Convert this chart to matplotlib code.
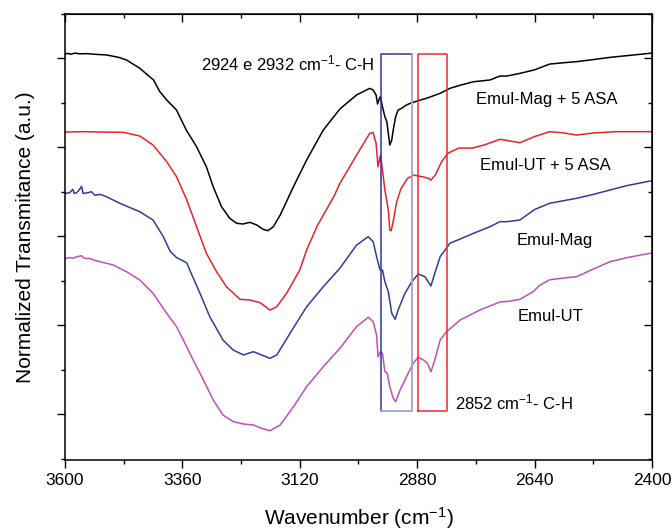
import matplotlib.pyplot as plt
from matplotlib.ticker import MultipleLocator

plt.rcParams['font.family'] = ['Liberation Sans', 'DejaVu Sans']
plt.rcParams['mathtext.default'] = 'regular'

# Emul-Mag + 5 ASA (black)
wn_mag_asa = [3600, 3594, 3588, 3580, 3570, 3555, 3540, 3515, 3490, 3474, 3447, 3419, 3406, 3392,
              3372, 3352, 3331, 3311, 3297, 3280, 3263, 3249, 3236, 3222, 3208, 3195, 3185, 3174,
              3160, 3133, 3106, 3072, 3038, 3004, 2977, 2970, 2964, 2961, 2957, 2955, 2951, 2946,
              2942, 2939, 2936, 2932, 2929, 2924, 2919, 2912, 2902, 2891, 2878, 2861, 2833, 2813,
              2790, 2765, 2731, 2711, 2697, 2670, 2640, 2609, 2580, 2554, 2520, 2486, 2450, 2404, 2400]
t_mag_asa = [5.048, 5.055, 5.045, 5.058, 5.050, 5.052, 5.045, 5.037, 5.010, 4.980, 4.887, 4.756, 4.624, 4.531,
             4.418, 4.193, 4.006, 3.781, 3.556, 3.331, 3.200, 3.145, 3.137, 3.156, 3.126, 3.077, 3.062, 3.107,
             3.238, 3.556, 3.856, 4.193, 4.430, 4.587, 4.662, 4.643, 4.587, 4.486, 4.550, 4.568, 4.455, 4.343,
             4.287, 4.156, 4.025, 4.081, 4.193, 4.343, 4.418, 4.437, 4.475, 4.500, 4.523, 4.550, 4.606, 4.662,
             4.700, 4.736, 4.756, 4.800, 4.800, 4.830, 4.870, 4.935, 4.950, 4.962, 4.985, 5.010, 5.030, 5.056, 5.058]

# Emul-UT + 5 ASA (red)
wn_ut_asa = [3600, 3560, 3520, 3481, 3447, 3420, 3392, 3372, 3351, 3331, 3311, 3290, 3270, 3242,
             3222, 3201, 3181, 3167, 3147, 3120, 3106, 3084, 3049, 3038, 3004, 2977, 2970, 2964,
             2960, 2955, 2951, 2946, 2939, 2936, 2933, 2928, 2922, 2913, 2900, 2887, 2869, 2856,
             2852, 2843, 2830, 2817, 2795, 2768, 2742, 2711, 2690, 2670, 2640, 2609, 2580, 2554,
             2520, 2472, 2404, 2400]
t_ut_asa = [4.171, 4.175, 4.170, 4.168, 4.126, 4.025, 3.837, 3.669, 3.407, 3.107, 2.808, 2.600, 2.432, 2.290,
            2.283, 2.253, 2.170, 2.207, 2.358, 2.620, 2.845, 3.119, 3.460, 3.594, 3.910, 4.156, 4.163, 4.044,
            3.781, 3.913, 3.744, 3.519, 3.294, 3.070, 3.062, 3.195, 3.384, 3.535, 3.649, 3.687, 3.668, 3.649,
            3.630, 3.687, 3.838, 3.933, 3.990, 3.990, 4.027, 4.089, 4.070, 4.051, 4.120, 4.175, 4.160, 4.137,
            4.160, 4.175, 4.175, 4.175]

# Emul-Mag (blue)
wn_mag = [3600, 3590, 3584, 3581, 3576, 3571, 3566, 3563, 3552, 3546, 3539, 3528, 3515, 3488,
          3447, 3420, 3399, 3385, 3372, 3351, 3345, 3324, 3304, 3277, 3256, 3235, 3215, 3198,
          3181, 3167, 3140, 3106, 3072, 3038, 3004, 2980, 2970, 2963, 2956, 2951, 2946, 2939,
          2932, 2925, 2919, 2905, 2891, 2878, 2864, 2852, 2844, 2833, 2813, 2765, 2731, 2711,
          2697, 2670, 2640, 2609, 2580, 2554, 2520, 2486, 2450, 2404, 2400]
t_mag = [3.480, 3.490, 3.527, 3.480, 3.490, 3.520, 3.560, 3.480, 3.490, 3.500, 3.460, 3.470, 3.444, 3.370,
         3.275, 3.182, 2.995, 2.830, 2.760, 2.700, 2.620, 2.358, 2.095, 1.833, 1.720, 1.665, 1.702, 1.665,
         1.627, 1.665, 1.908, 2.207, 2.432, 2.640, 2.900, 2.995, 2.938, 2.770, 2.620, 2.620, 2.488, 2.376,
         2.133, 2.066, 2.170, 2.358, 2.488, 2.575, 2.545, 2.440, 2.583, 2.770, 2.920, 3.032, 3.107, 3.163,
         3.163, 3.182, 3.300, 3.370, 3.400, 3.426, 3.470, 3.519, 3.570, 3.620, 3.620]

# Emul-UT (magenta)
wn_ut = [3600, 3590, 3584, 3576, 3566, 3560, 3550, 3540, 3528, 3501, 3474, 3447, 3420, 3392,
         3372, 3358, 3338, 3317, 3297, 3277, 3256, 3235, 3215, 3198, 3181, 3160, 3133, 3106,
         3072, 3038, 3004, 2980, 2970, 2963, 2960, 2955, 2951, 2946, 2941, 2936, 2929, 2924,
         2915, 2902, 2888, 2878, 2867, 2859, 2852, 2846, 2833, 2820, 2792, 2752, 2711, 2690,
         2670, 2643, 2629, 2609, 2580, 2554, 2520, 2486, 2450, 2404, 2400]
t_ut = [2.750, 2.760, 2.750, 2.770, 2.780, 2.750, 2.750, 2.730, 2.713, 2.676, 2.600, 2.508, 2.358, 2.133,
        1.983, 1.833, 1.608, 1.384, 1.159, 0.990, 0.915, 0.889, 0.878, 0.840, 0.814, 0.878, 1.083, 1.308,
        1.533, 1.740, 1.983, 2.088, 2.039, 1.889, 1.645, 1.702, 1.683, 1.477, 1.459, 1.308, 1.178, 1.140,
        1.271, 1.420, 1.571, 1.639, 1.608, 1.571, 1.477, 1.571, 1.833, 1.926, 2.058, 2.170, 2.260, 2.270,
        2.290, 2.376, 2.450, 2.510, 2.530, 2.545, 2.630, 2.713, 2.760, 2.808, 2.810]

# highlighted bands (wavenumber limits)
band_ch2_asym = (2953, 2891)
band_ch2_sym = (2878, 2820)
band_bottom, band_top = 1.038, 5.045

fig = plt.figure(figsize=(6.72, 5.30), dpi=100)
ax = fig.add_axes([0.0967, 0.132, 0.8735, 0.8425])

ax.plot(wn_mag_asa, t_mag_asa, color='black', lw=1.1)
ax.plot(wn_ut_asa, t_ut_asa, color='#e5242a', lw=1.1)
ax.plot(wn_mag, t_mag, color='#2f3c9c', lw=1.1)
ax.plot(wn_ut, t_ut, color='#bf4fb8', lw=1.1)

# boxes
x0, x1 = band_ch2_asym
ax.plot([x0, x0, x1], [band_bottom, band_top, band_top], color='#2e34a8', lw=1.1)
ax.plot([x1, x1, x0], [band_top, band_bottom, band_bottom], color='#a0a2d8', lw=1.3)
x0, x1 = band_ch2_sym
ax.plot([x0, x0, x1, x1, x0], [band_bottom, band_top, band_top, band_bottom, band_bottom],
        color='#ee2a2a', lw=1.1)

ax.text(3322, 4.94, '2924 e 2932 cm$^{-1}$- C-H', fontsize=12, va='center', ha='left')
ax.text(2760, 4.54, 'Emul-Mag + 5 ASA', fontsize=12, va='center', ha='left')
ax.text(2752, 3.80, 'Emul-UT + 5 ASA', fontsize=12, va='center', ha='left')
ax.text(2677, 2.95, 'Emul-Mag', fontsize=12, va='center', ha='left')
ax.text(2675, 2.095, 'Emul-UT', fontsize=12, va='center', ha='left')
ax.text(2803, 1.13, '2852 cm$^{-1}$- C-H', fontsize=12, va='center', ha='left')

ax.set_xlim(3600, 2400)
ax.set_ylim(0.484, 5.503)
ax.xaxis.set_major_locator(MultipleLocator(240))
ax.xaxis.set_minor_locator(MultipleLocator(120))
ax.yaxis.set_major_locator(MultipleLocator(1))
ax.yaxis.set_minor_locator(MultipleLocator(0.5))
ax.set_yticklabels([])
ax.tick_params(which='major', direction='out', length=6, width=1, labelsize=12.5)
ax.tick_params(which='minor', direction='out', length=3, width=1)

# mirrored ticks on top and right, pointing inward
top = ax.secondary_xaxis('top')
top.xaxis.set_major_locator(MultipleLocator(240))
top.xaxis.set_minor_locator(MultipleLocator(120))
top.tick_params(which='major', direction='in', length=6, width=1, labeltop=False)
top.tick_params(which='minor', direction='in', length=3, width=1)
right = ax.secondary_yaxis('right')
right.yaxis.set_major_locator(MultipleLocator(1))
right.yaxis.set_minor_locator(MultipleLocator(0.5))
right.tick_params(which='major', direction='in', length=6, width=1, labelright=False)
right.tick_params(which='minor', direction='in', length=3, width=1)

for s in ax.spines.values():
    s.set_linewidth(1.1)

ax.set_xlabel('Wavenumber (cm$^{-1}$)', fontsize=15, labelpad=12)
ax.set_ylabel('Normalized Transmitance (a.u.)', fontsize=15, labelpad=12)

plt.savefig('out.png', dpi=100)
